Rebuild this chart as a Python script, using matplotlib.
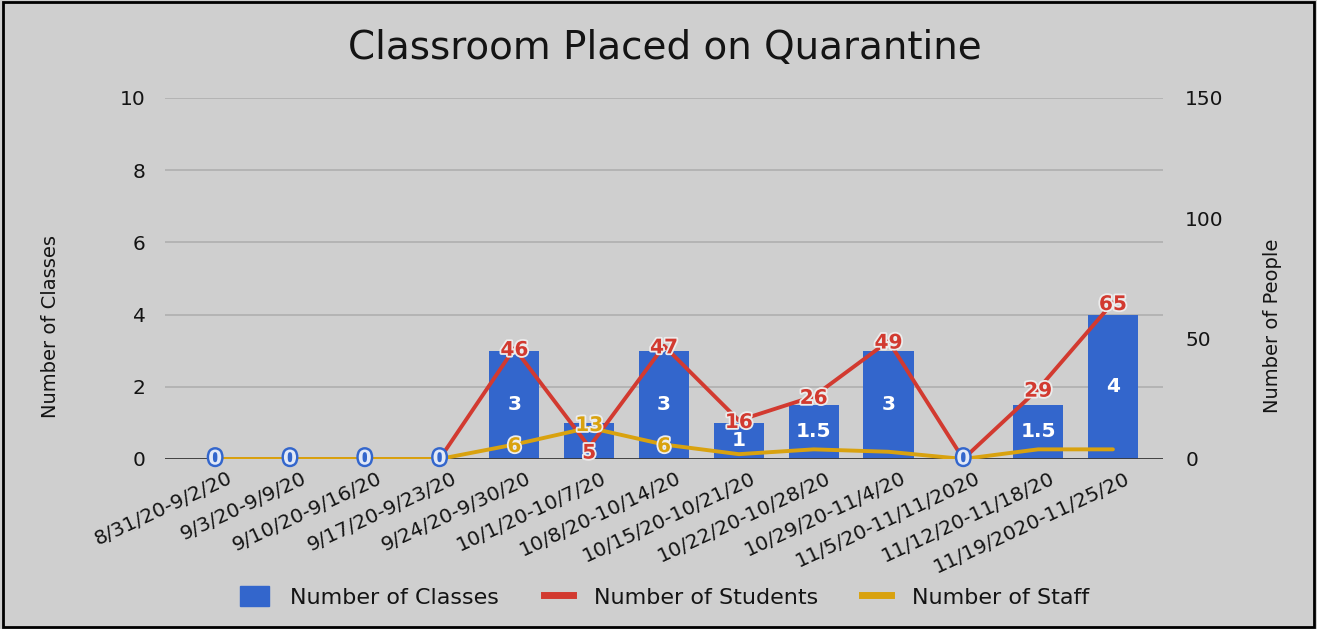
import matplotlib
matplotlib.use("Agg")
import matplotlib.pyplot as plt
from matplotlib.patches import Patch, Rectangle
from matplotlib.lines import Line2D
from matplotlib.transforms import ScaledTranslation
import matplotlib.patheffects as pe

# Weekly quarantine data
weeks = [
    "8/31/20-9/2/20", "9/3/20-9/9/20", "9/10/20-9/16/20", "9/17/20-9/23/20",
    "9/24/20-9/30/20", "10/1/20-10/7/20", "10/8/20-10/14/20", "10/15/20-10/21/20",
    "10/22/20-10/28/20", "10/29/20-11/4/20", "11/5/20-11/11/2020",
    "11/12/20-11/18/20", "11/19/2020-11/25/20",
]
classes = [0, 0, 0, 0, 3, 1, 3, 1, 1.5, 3, 0, 1.5, 4]
students = [0, 0, 0, 0, 46, 5, 47, 16, 26, 49, 0, 29, 65]
staff = [0, 0, 0, 0, 6, 13, 6, 2, 4, 3, 0, 4, 4]
staff_labeled = [4, 5, 6]
# the class count at 10/1 is covered by the people labels, so it is not printed
class_unlabeled = [5]

BG = "#cfcfcf"
BLUE = "#3366cc"
RED = "#d23a30"
GOLD = "#d9a20f"
INK = "#141414"

plt.rcParams["font.family"] = ["DejaVu Sans"]

fig = plt.figure(figsize=(13.17, 6.29), dpi=100, facecolor=BG)
ax = fig.add_axes([0.1253, 0.2703, 0.7578, 0.574])
ax.set_facecolor(BG)
ax2 = ax.twinx()

x = list(range(len(weeks)))

# Bars: number of classes (left axis)
ax.bar(x, classes, width=0.67, color=BLUE, zorder=2)
ax.set_ylim(0, 10)
ax.set_xlim(-0.67, len(weeks) - 1 + 0.67)
ax.set_yticks([0, 2, 4, 6, 8, 10])
ax.yaxis.grid(True, color="#adadad", lw=1.1)
ax.set_axisbelow(True)
ax.axhline(0, color="#3a3a3a", lw=1.3, zorder=3)
for s in list(ax.spines.values()) + list(ax2.spines.values()):
    s.set_visible(False)
ax.tick_params(axis="y", length=0, pad=14, labelsize=14.5, colors=INK)
ax.tick_params(axis="x", length=0, pad=7)
ax.set_xticks(x)
ax.set_xticklabels(weeks, rotation=25, ha="right", va="top",
                   rotation_mode="anchor", fontsize=14.5, color=INK)
shift = ScaledTranslation(0.12, 0, fig.dpi_scale_trans)
for lab in ax.get_xticklabels():
    lab.set_transform(lab.get_transform() + shift)

# Lines: people (right axis)
ax2.set_ylim(0, 150)
ax2.set_yticks([0, 50, 100, 150])
ax2.tick_params(axis="y", length=0, pad=16, labelsize=14.5, colors=INK)
ax2.plot(x, students, color=RED, lw=2.8, zorder=4, solid_capstyle="round")
ax2.plot(x, staff, color=GOLD, lw=2.8, zorder=5, solid_capstyle="round")

halo = [pe.withStroke(linewidth=2.6, foreground="#ececec")]
LABEL_SIZE = 14.5

# Bar value labels
for i, v in enumerate(classes):
    if i in class_unlabeled:
        continue
    if v > 0:
        ax.text(i, v / 2, f"{v:g}", ha="center", va="center", color="white",
                fontsize=LABEL_SIZE, fontweight="bold", zorder=6)
    else:
        ax2.text(i, 0, "0", ha="center", va="center", color="#e2e9f7",
                 fontsize=LABEL_SIZE, fontweight="bold", zorder=9,
                 path_effects=[pe.withStroke(linewidth=3.5, foreground=BLUE)])

# Student labels (the small value at 10/1 sits just under the staff label)
for i, v in enumerate(students):
    if v > 0:
        dy = -3 if i == 5 else 0
        ax2.annotate(str(v), (i, v), xytext=(0, dy), textcoords="offset points",
                     ha="center", va="center_baseline", color=RED,
                     fontsize=LABEL_SIZE, fontweight="bold", zorder=8,
                     path_effects=halo)

# Staff labels
for i in staff_labeled:
    dy = 3 if i == 5 else 0
    ax2.annotate(str(staff[i]), (i, staff[i]), xytext=(0, dy),
                 textcoords="offset points", ha="center", va="center_baseline",
                 color=GOLD, fontsize=LABEL_SIZE, fontweight="bold", zorder=8,
                 path_effects=halo)

# Axis titles
ax.set_ylabel("Number of Classes", fontsize=14, color=INK)
ax.yaxis.set_label_coords(-0.105, 0.366)
ax2.set_ylabel("Number of People", fontsize=14, color=INK, rotation=90)
ax2.yaxis.set_label_coords(1.100, 0.368)

fig.text(0.505, 0.924, "Classroom Placed on Quarantine", ha="center",
         va="center", fontsize=28, color=INK)

handles = [
    Patch(facecolor=BLUE, edgecolor=BLUE),
    Line2D([], [], color=RED, lw=5),
    Line2D([], [], color=GOLD, lw=5),
]
labels = ["Number of Classes", "Number of Students", "Number of Staff"]
fig.legend(handles, labels, loc="center", bbox_to_anchor=(0.505, 1 - 597 / 629),
           ncol=3, frameon=False, fontsize=16, handlelength=1.3,
           handleheight=1.0, columnspacing=2.0, handletextpad=0.95,
           labelcolor=INK)

fig.add_artist(Rectangle((0.002, 0.003), 0.996, 0.994, transform=fig.transFigure,
                         fill=False, edgecolor="black", lw=2))

fig.savefig("out.png", dpi=100, facecolor=BG)
